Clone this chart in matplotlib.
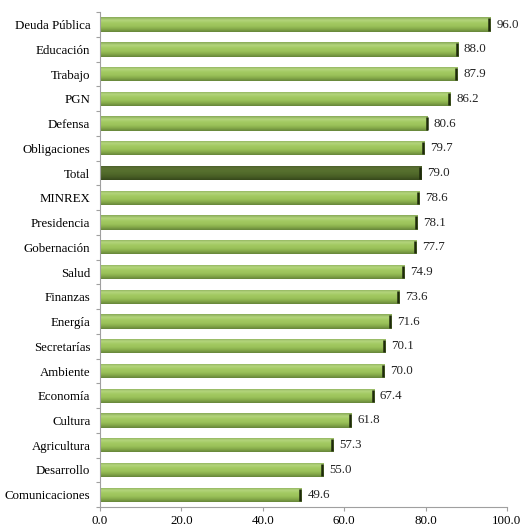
import numpy as np
import matplotlib
matplotlib.use("Agg")
import matplotlib.pyplot as plt
from matplotlib.colors import LinearSegmentedColormap

categories = ["Deuda Pública", "Educación", "Trabajo", "PGN", "Defensa",
              "Obligaciones", "Total", "MINREX", "Presidencia", "Gobernación",
              "Salud", "Finanzas", "Energía", "Secretarías", "Ambiente",
              "Economía", "Cultura", "Agricultura", "Desarrollo", "Comunicaciones"]
values = [96.0, 88.0, 87.9, 86.2, 80.6, 79.7, 79.0, 78.6, 78.1, 77.7,
          74.9, 73.6, 71.6, 70.1, 70.0, 67.4, 61.8, 57.3, 55.0, 49.6]
highlight = "Total"
x_ticks = [0, 20, 40, 60, 80, 100]

plt.rcParams["font.family"] = ["Liberation Serif", "DejaVu Serif"]

fig = plt.figure(figsize=(5.21, 5.31), dpi=100)
ax = fig.add_axes([0.192, 0.045, 0.781, 0.932])

pos = np.arange(len(categories))
bar_h = 0.58
bars = ax.barh(pos, values, height=bar_h, color="none", edgecolor="none", zorder=2)

green = LinearSegmentedColormap.from_list(
    "g", ["#88A958", "#B3D57C", "#A3C962", "#9CC35A", "#86AA4A", "#66853A"])
olive = LinearSegmentedColormap.from_list(
    "o", ["#46592A", "#5A7032", "#56702E", "#50682A", "#465C24", "#36481B"])
grad = np.linspace(0, 1, 64).reshape(-1, 1)

for cat, rect, v in zip(categories, bars.patches, values):
    x0, y0 = rect.get_x(), rect.get_y()
    w, h = rect.get_width(), rect.get_height()
    cmap = olive if cat == highlight else green
    im = ax.imshow(grad, cmap=cmap, aspect="auto", origin="upper",
                   extent=[x0, x0 + w, y0 + h, y0], zorder=2,
                   interpolation="bilinear")
    im.set_clip_path(rect)
    ax.vlines(x0 + w - 0.35, y0 + 0.04, y0 + h - 0.04, color="#1E2A0C",
              lw=1.8, zorder=3)
    ax.text(v + 1.4, rect.get_y() + h / 2, f"{v:.1f}", va="center", ha="left",
            fontsize=9.3, color="#222222")

ax.set_xlim(0, 100)
ax.set_ylim(len(categories) - 0.5, -0.5)
ax.set_xticks(x_ticks)
ax.set_xticklabels([f"{t:.1f}" for t in x_ticks], fontsize=9.3)
ax.set_yticks(pos)
ax.set_yticklabels(categories, fontsize=9.3)
ax.set_yticks(np.arange(len(categories) + 1) - 0.5, minor=True)
ax.tick_params(axis="y", which="major", length=0, pad=7)
ax.tick_params(axis="y", which="minor", length=3, color="#A0A0A0", width=0.8)
ax.tick_params(axis="x", length=3, color="#A0A0A0", width=0.8, pad=3)

for s in ["top", "right"]:
    ax.spines[s].set_visible(False)
for s in ["left", "bottom"]:
    ax.spines[s].set_color("#A0A0A0")
    ax.spines[s].set_linewidth(0.8)

fig.savefig("out.png", dpi=100)
